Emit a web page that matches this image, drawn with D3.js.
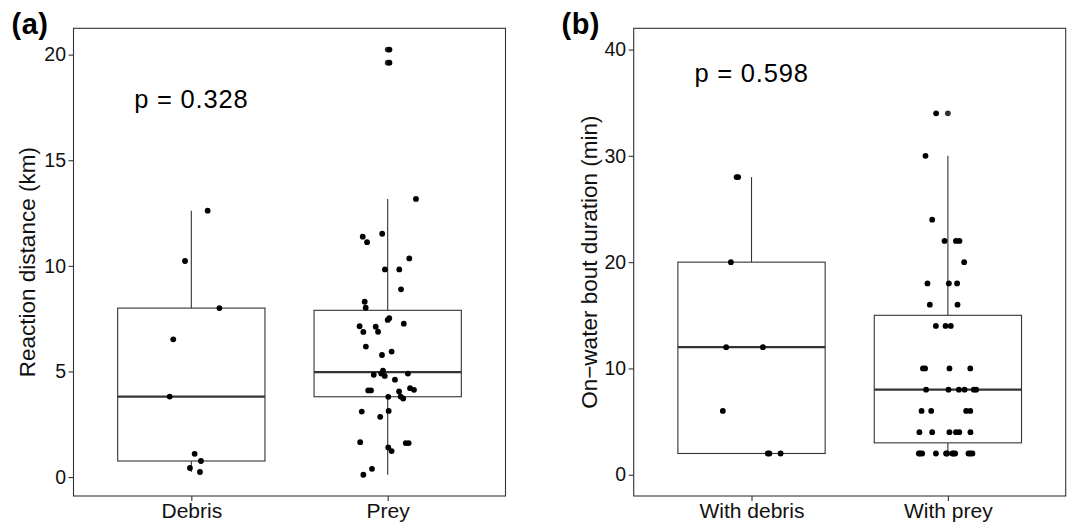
<!DOCTYPE html>
<html>
<head>
<meta charset="utf-8">
<script src="https://cdn.jsdelivr.net/npm/d3@7"></script>
<style>
  body { margin: 0; background: #fff; }
  svg { display: block; font-family: "Liberation Sans", Arial, Helvetica, sans-serif; }
</style>
</head>
<body>
<div id="chart"></div>
<script>
// ---- data ----
// (a) reaction distance, km
const distanceGroups = ["Debris", "Prey"];
const debrisDistance = [12.61, 10.23, 8.00, 6.52, 3.81, 1.10, 0.76, 0.43, 0.24];
const debrisDistanceJitter = [0.083, -0.032, 0.143, -0.092, -0.110, 0.017, 0.049, -0.007, 0.044];
const preyDistance = [20.24, 19.62, 13.17, 11.52, 11.38, 11.12, 10.35, 9.83, 9.83, 8.89,
  8.30, 8.02, 7.52, 7.44, 7.26, 7.14, 7.12, 6.88, 6.87, 6.18,
  5.94, 5.78, 5.04, 4.90, 4.90, 4.84, 4.79, 4.61, 4.21, 4.13,
  4.10, 4.10, 4.05, 3.81, 3.80, 3.72, 3.13, 3.10, 2.85, 1.65,
  1.61, 1.61, 1.40, 1.23, 0.39, 0.11];
const preyDistanceJitter = [0.009, 0.009, 0.144, -0.028, -0.127, -0.105, 0.110, -0.014, 0.059, 0.068,
  -0.117, -0.112, 0.008, 0.000, 0.082, -0.143, -0.061, -0.049, -0.124, -0.111,
  0.020, -0.029, -0.024, -0.033, 0.103, -0.071, -0.015, 0.037, 0.114, 0.134,
  -0.099, -0.085, 0.058, 0.066, 0.003, 0.079, 0.005, -0.132, -0.038, -0.140,
  0.092, 0.107, 0.003, 0.020, -0.080, -0.124];
const distanceTicks = [0, 5, 10, 15, 20];

// (b) on-water bout duration, min
const boutGroups = ["With debris", "With prey"];
const debrisBout = [28, 28, 20, 12, 12, 6, 2, 2, 2];
const debrisBoutJitter = [-0.076, -0.068, -0.105, -0.129, 0.058, -0.146, 0.083, 0.091, 0.148];
const preyBout = [34, 30, 24, 22, 22, 22, 20, 18, 18, 18,
  16, 16, 14, 14, 14, 10, 10, 10, 10, 8,
  8, 8, 8, 8, 8, 6, 6, 6, 6, 4,
  4, 4, 4, 4, 4, 2, 2, 2, 2, 2,
  2, 2, 2, 2, 2, 2, 2];
const preyBoutJitter = [-0.060, -0.114, -0.080, -0.017, 0.041, 0.059, 0.083, -0.104, 0.005, 0.047,
  -0.092, 0.049, -0.061, -0.012, 0.015, -0.127, -0.116, 0.008, 0.114, -0.111,
  0.003, 0.056, 0.085, 0.132, 0.144, -0.134, -0.085, 0.093, 0.114, -0.145,
  -0.080, 0.008, 0.041, 0.058, 0.115, -0.148, -0.141, -0.131, -0.061, -0.009,
  -0.004, 0.023, 0.030, 0.037, 0.105, 0.114, 0.125];
const boutTicks = [0, 10, 20, 30, 40];

const panelTags = ["(a)", "(b)"];
const pLabels = ["p = 0.328", "p = 0.598"];


class BoxJitterPlot {
  constructor(svg, config) {
    this.svg = svg;
    this.config = config;
    this.initVis();
  }

  initVis() {
    let vis = this;
    let c = vis.config;

    vis.g = vis.svg.append("g");

    vis.x = d3.scaleLinear()
      .domain([0.4, c.groups.length + 0.6])
      .range([c.left, c.right]);

    // ggplot style 5% expansion
    let all = c.values.flat();
    let lim = c.yLimits || d3.extent(all);
    let pad = (lim[1] - lim[0]) * 0.05;
    vis.y = d3.scaleLinear()
      .domain([lim[0] - pad, lim[1] + pad])
      .range([c.bottom, c.top]);

    vis.wrangleData();
  }

  wrangleData() {
    let vis = this;
    let c = vis.config;

    vis.stats = c.values.map((vals, i) => {
      let s = vals.slice().sort(d3.ascending);
      let q1 = d3.quantile(s, 0.25);
      let med = d3.quantile(s, 0.5);
      let q3 = d3.quantile(s, 0.75);
      let iqr = q3 - q1;
      let inside = s.filter(v => v >= q1 - 1.5 * iqr && v <= q3 + 1.5 * iqr);
      return {
        pos: i + 1,
        q1: q1, med: med, q3: q3,
        lo: d3.min(inside), hi: d3.max(inside),
        outliers: s.filter(v => v < q1 - 1.5 * iqr || v > q3 + 1.5 * iqr)
      };
    });

    vis.points = [];
    c.values.forEach((vals, i) => {
      vals.forEach((v, j) => {
        vis.points.push({ pos: i + 1 + c.jitter[i][j], value: v });
      });
    });

    vis.updateVis();
  }

  updateVis() {
    let vis = this;
    let c = vis.config;
    let ink = "#333333";

    // axes
    let yAxis = vis.g.append("g")
      .attr("transform", `translate(${c.left},0)`)
      .call(d3.axisLeft(vis.y).tickValues(c.ticks).tickSize(5).tickPadding(2.5));
    yAxis.select(".domain").remove();
    yAxis.selectAll("line").attr("stroke", ink).attr("stroke-width", 1.1);
    yAxis.selectAll("text")
      .attr("fill", "#111")
      .style("font-size", "19.5px")
      .style("font-family", "'Liberation Sans', Arial, sans-serif");

    let xAxis = vis.g.append("g")
      .attr("transform", `translate(0,${c.bottom})`)
      .call(d3.axisBottom(vis.x)
        .tickValues(c.groups.map((d, i) => i + 1))
        .tickFormat(d => c.groups[d - 1])
        .tickSize(5).tickPadding(2));
    xAxis.select(".domain").remove();
    xAxis.selectAll("line").attr("stroke", ink).attr("stroke-width", 1.1);
    xAxis.selectAll("text")
      .attr("fill", "#111")
      .style("font-size", "21px")
      .style("font-family", "'Liberation Sans', Arial, sans-serif");

    // y title
    vis.g.append("text")
      .attr("transform", `translate(${c.titleX},${(c.top + c.bottom) / 2}) rotate(-90)`)
      .attr("text-anchor", "middle")
      .attr("fill", "#111")
      .style("font-size", "22.5px")
      .text(c.yTitle);

    // boxes
    let half = 0.375;
    let boxes = vis.g.selectAll(".box")
      .data(vis.stats)
      .enter()
      .append("g")
      .attr("class", "box");

    boxes.append("line")
      .attr("x1", d => vis.x(d.pos)).attr("x2", d => vis.x(d.pos))
      .attr("y1", d => vis.y(d.q3)).attr("y2", d => vis.y(d.hi))
      .attr("stroke", ink).attr("stroke-width", 1.1);
    boxes.append("line")
      .attr("x1", d => vis.x(d.pos)).attr("x2", d => vis.x(d.pos))
      .attr("y1", d => vis.y(d.q1)).attr("y2", d => vis.y(d.lo))
      .attr("stroke", ink).attr("stroke-width", 1.1);
    boxes.append("rect")
      .attr("x", d => vis.x(d.pos - half))
      .attr("width", d => vis.x(d.pos + half) - vis.x(d.pos - half))
      .attr("y", d => vis.y(d.q3))
      .attr("height", d => vis.y(d.q1) - vis.y(d.q3))
      .attr("fill", "#fff")
      .attr("stroke", ink).attr("stroke-width", 1.1);
    boxes.append("line")
      .attr("x1", d => vis.x(d.pos - half)).attr("x2", d => vis.x(d.pos + half))
      .attr("y1", d => vis.y(d.med)).attr("y2", d => vis.y(d.med))
      .attr("stroke", ink).attr("stroke-width", 2.3);

    // boxplot outliers sit on the centre line
    boxes.selectAll(".outlier")
      .data(d => d.outliers.map(v => ({ pos: d.pos, value: v })))
      .enter()
      .append("circle")
      .attr("class", "outlier")
      .attr("cx", d => vis.x(d.pos))
      .attr("cy", d => vis.y(d.value))
      .attr("r", 2.9)
      .attr("fill", ink);

    // jittered raw points
    vis.g.selectAll(".pt")
      .data(vis.points)
      .enter()
      .append("circle")
      .attr("class", "pt")
      .attr("cx", d => vis.x(d.pos))
      .attr("cy", d => vis.y(d.value))
      .attr("r", 2.9)
      .attr("fill", "#000");

    // p value
    vis.g.append("text")
      .attr("x", vis.x(1))
      .attr("y", vis.y(c.pY))
      .attr("dy", "0.36em")
      .attr("text-anchor", "middle")
      .attr("fill", "#000")
      .style("font-size", "25.5px")
      .style("letter-spacing", "0.8px")
      .text(c.pLabel);

    // panel border
    vis.g.append("rect")
      .attr("x", c.left).attr("y", c.top)
      .attr("width", c.right - c.left).attr("height", c.bottom - c.top)
      .attr("fill", "none")
      .attr("stroke", ink).attr("stroke-width", 1.1);

    // tag
    vis.g.append("text")
      .attr("x", c.tagX).attr("y", 34)
      .attr("fill", "#000")
      .style("font-size", "29px")
      .style("font-weight", "bold")
      .style("letter-spacing", "0.5px")
      .text(c.tag);
  }
}

let svg = d3.select("#chart")
  .append("svg")
  .attr("width", 1070)
  .attr("height", 522);

new BoxJitterPlot(svg, {
  groups: distanceGroups,
  values: [debrisDistance, preyDistance],
  jitter: [debrisDistanceJitter, preyDistanceJitter],
  ticks: distanceTicks,
  yLimits: null,
  yTitle: "Reaction distance (km)",
  pLabel: pLabels[0], pY: 17.9,
  tag: panelTags[0], tagX: 11.5,
  left: 73.5, right: 505.5, top: 28.3, bottom: 496,
  titleX: 34.7
});

new BoxJitterPlot(svg, {
  groups: boutGroups,
  values: [debrisBout, preyBout],
  jitter: [debrisBoutJitter, preyBoutJitter],
  ticks: boutTicks,
  yLimits: [0, 40],
  yTitle: "On\u2212water bout duration (min)",
  pLabel: pLabels[1], pY: 37.8,
  tag: panelTags[1], tagX: 561.5,
  left: 633.7, right: 1065.7, top: 28.3, bottom: 496,
  titleX: 596.7
});
</script>
</body>
</html>
